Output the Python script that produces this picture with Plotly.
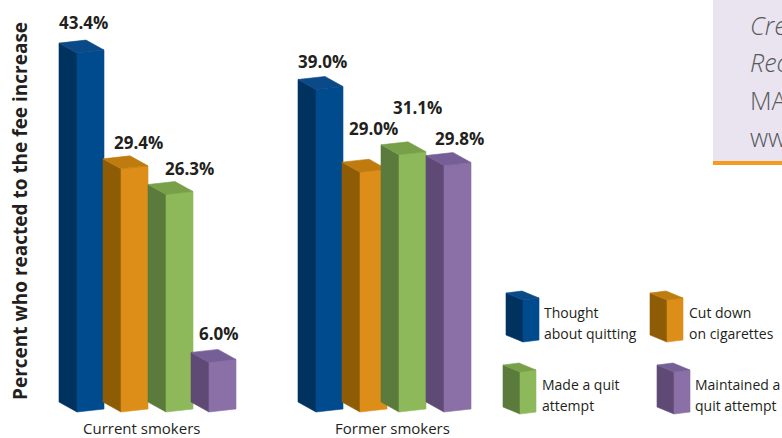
import plotly.graph_objects as go

# ---- data -------------------------------------------------------------
groups = ["Current smokers", "Former smokers"]
reactions = ["Thought<br>about quitting", "Cut down<br>on cigarettes",
             "Made a quit<br>attempt", "Maintained a<br>quit attempt"]
current_smokers = [43.4, 29.4, 26.3, 6.0]
former_smokers = [39.0, 29.0, 31.1, 29.8]
values = [current_smokers, former_smokers]
y_title = "Percent who reacted to the fee increase"
note_lines = ["<i>Cre</i>", "<i>Rec</i>", "MA", "ww"]

# ---- styling / layout constants --------------------------------------
W, H = 782, 438
S = 8.27            # pixels per percentage point
BASE_PX = 412       # pixel row of the zero line
FONT = "Open Sans"
TEXT = "#231f20"

# (side, front, top) shades for each reaction
palette = [
    ("#00325f", "#004b8d", "#0b4a88"),
    ("#8f5c06", "#dc8e19", "#c07b0e"),
    ("#5b7b3c", "#8eb95b", "#77a049"),
    ("#5e4a74", "#8a70a7", "#765f97"),
]

bar_front_x = [[77, 121, 166, 209], [316, 360, 399, 444]]
BAR_W, DEPTH_X, DEPTH_Y, TILT = 27, -18, 10, 3
label_shift = [[(-7.5, 31), (3.5, 26), (9.5, 26.5), (-3.5, 29)],
               [(-7.5, 27.5), (-0.5, 44), (4.5, 47), (1.5, 27)]]
group_label_x = [141, 392]

legend_front_x = [523, 667, 520, 674]
legend_bottom_px = [342, 342, 414, 414]
legend_text_x = [542, 687, 540, 693]


def to_v(px):
    """pixel length -> value units on the y axis"""
    return px / S


def prism(fig, xf, base, height, w, dx, dy_px, tilt_px, cols):
    dy, t = to_v(dy_px), to_v(tilt_px)
    top = base + height
    side = ([xf, xf, xf + dx, xf + dx, xf], [base, top, top + dy, base + dy, base])
    front = ([xf, xf + w, xf + w, xf, xf], [base, base + t, top + t, top, base])
    cap = ([xf, xf + w, xf + w + dx, xf + dx, xf],
           [top, top + t, top + t + dy, top + dy, top])
    for (xs, ys), c in zip([side, front, cap], cols):
        fig.add_trace(go.Scatter(x=xs, y=ys, mode="lines", fill="toself",
                                 fillcolor=c, line=dict(color=c, width=0.6),
                                 hoverinfo="skip", showlegend=False))


fig = go.Figure()
ann = []

# bars
for g, gvals in enumerate(values):
    for i, val in enumerate(gvals):
        xf = bar_front_x[g][i]
        prism(fig, xf, 0, val, BAR_W, DEPTH_X, DEPTH_Y, TILT, palette[i])
        sx, sy = label_shift[g][i]
        ann.append(dict(x=xf + BAR_W / 2, y=val, xref="x", yref="y",
                        text=f"{val:.1f}%", showarrow=False,
                        xanchor="center", yanchor="middle",
                        xshift=sx, yshift=sy,
                        font=dict(family=FONT, size=17, color=TEXT, weight="bold")))
    ann.append(dict(x=group_label_x[g], y=0, xref="x", yref="y", text=groups[g],
                    showarrow=False, xanchor="center", yanchor="middle", yshift=-16,
                    font=dict(family=FONT, size=15, color=TEXT)))

# legend swatches
for i, name in enumerate(reactions):
    base = (BASE_PX - legend_bottom_px[i]) / S
    prism(fig, legend_front_x[i], base, to_v(42), 16, -17, 7, 2, palette[i])
    for k, line in enumerate(name.split("<br>")):
        ypx = legend_bottom_px[i] - 30 + 21 * k
        ann.append(dict(x=legend_text_x[i] / W, y=1 - ypx / H, xref="paper", yref="paper",
                        text=line, showarrow=False, xanchor="left", yanchor="middle",
                        font=dict(family=FONT, size=14, color=TEXT)))

# axis title
ann.append(dict(x=20 / W, y=1 - 211 / H, xref="paper", yref="paper", text=y_title,
                textangle=-90, showarrow=False, xanchor="center", yanchor="middle",
                font=dict(family=FONT, size=19, color=TEXT, weight="bold")))

# side note box text (runs off the right edge of the page)
for k, line in enumerate(note_lines):
    ypx = 25 + 37.3 * k
    ann.append(dict(x=748 / W, y=1 - ypx / H, xref="paper", yref="paper", text=line,
                    showarrow=False, xanchor="left", yanchor="middle",
                    font=dict(family=FONT, size=25, color="#58595b", weight=300)))

shapes = [
    dict(type="rect", xref="paper", yref="paper", x0=713 / W, x1=1.02,
         y0=1 - 161 / H, y1=1.02, fillcolor="#e9e4f0", line=dict(width=0), layer="below"),
    dict(type="rect", xref="paper", yref="paper", x0=713 / W, x1=1.02,
         y0=1 - 165 / H, y1=1 - 161 / H, fillcolor="#f39c1f", line=dict(width=0), layer="below"),
]

fig.update_layout(
    width=W, height=H, margin=dict(l=0, r=0, t=0, b=0),
    paper_bgcolor="white", plot_bgcolor="white",
    xaxis=dict(range=[0, W], visible=False, fixedrange=True),
    yaxis=dict(range=[(BASE_PX - H) / S, BASE_PX / S], visible=False, fixedrange=True),
    annotations=ann, shapes=shapes, showlegend=False,
)

fig.write_html("out.html")
